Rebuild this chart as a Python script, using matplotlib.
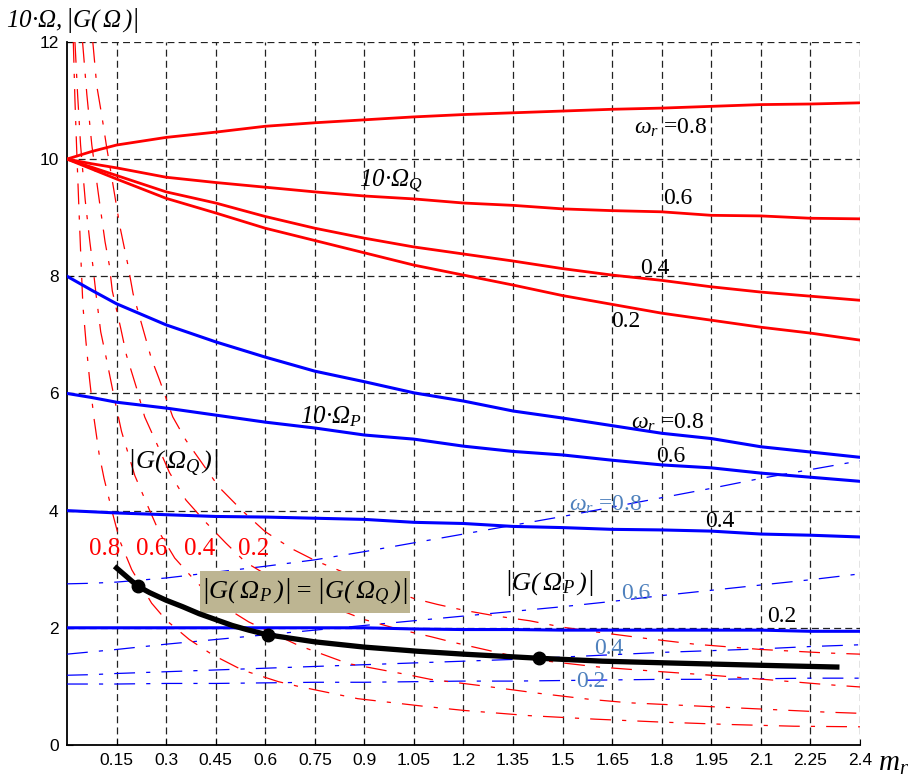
#!/usr/bin/python3
"""Omega_Q, Omega_P and |G| versus m_r for several omega_r values"""

import numpy as np
import matplotlib
matplotlib.use('Agg')

import matplotlib.pyplot as plt
from matplotlib.patches import Rectangle

# every math string is italic Times-like, digits and Greek included
plt.rcParams['mathtext.fontset'] = 'custom'
plt.rcParams['mathtext.rm'] = 'Liberation Serif:italic'
plt.rcParams['mathtext.it'] = 'Liberation Serif:italic'
plt.rcParams['lines.scale_dashes'] = False

# common m_r grid for the solid and dash-dot blue families
m_r = [0, 0.075, 0.15, 0.3, 0.45, 0.6, 0.75, 0.9, 1.05, 1.2, 1.35, 1.5,
       1.65, 1.8, 1.95, 2.1, 2.25, 2.4]

# 10*Omega_Q (red solid), omega_r = 0.8, 0.6, 0.4, 0.2
q_08 = [10.0, 10.13, 10.24, 10.37, 10.46, 10.56, 10.62, 10.67, 10.72, 10.76,
        10.79, 10.82, 10.85, 10.87, 10.9, 10.93, 10.94, 10.96]
q_06 = [10.0, 9.92, 9.85, 9.69, 9.6, 9.52, 9.44, 9.37, 9.32, 9.25, 9.21,
        9.15, 9.12, 9.1, 9.04, 9.03, 8.99, 8.98]
q_04 = [10.0, 9.86, 9.72, 9.44, 9.25, 9.02, 8.82, 8.65, 8.5, 8.38, 8.26,
        8.13, 8.02, 7.93, 7.82, 7.73, 7.66, 7.59]
q_02 = [10.0, 9.83, 9.66, 9.33, 9.08, 8.82, 8.61, 8.4, 8.19, 8.02, 7.85,
        7.67, 7.52, 7.37, 7.25, 7.13, 7.03, 6.91]

# 10*Omega_P (blue solid)
p_08 = [8.0, 7.76, 7.53, 7.17, 6.88, 6.62, 6.38, 6.2, 6.01, 5.87, 5.7, 5.58,
        5.45, 5.32, 5.23, 5.09, 5.0, 4.91]
p_06 = [6.0, 5.93, 5.85, 5.75, 5.63, 5.51, 5.41, 5.29, 5.22, 5.1, 5.01, 4.95,
        4.86, 4.78, 4.73, 4.64, 4.57, 4.5]
p_04 = [4.0, 3.98, 3.96, 3.93, 3.9, 3.89, 3.87, 3.85, 3.8, 3.78, 3.73, 3.71,
        3.68, 3.67, 3.65, 3.6, 3.58, 3.55]
p_02 = [2.0, 2.0, 2.0, 2.0, 2.0, 2.0, 2.0, 2.0, 1.98, 1.97, 1.97, 1.96,
        1.96, 1.96, 1.96, 1.96, 1.94, 1.94]

# |G(Omega_P)| (blue dash-dot)
gp_08 = [2.75, 2.76, 2.78, 2.85, 2.95, 3.05, 3.16, 3.3, 3.45, 3.6, 3.75, 3.9,
         4.06, 4.22, 4.38, 4.55, 4.7, 4.85]
gp_06 = [1.55, 1.59, 1.63, 1.72, 1.8, 1.88, 1.96, 2.04, 2.12, 2.2, 2.28, 2.36,
         2.45, 2.55, 2.64, 2.73, 2.82, 2.92]
gp_04 = [1.19, 1.2, 1.22, 1.25, 1.28, 1.31, 1.34, 1.37, 1.4, 1.43, 1.46, 1.5,
         1.54, 1.58, 1.61, 1.64, 1.68, 1.71]
gp_02 = [1.04, 1.04, 1.04, 1.05, 1.05, 1.06, 1.07, 1.07, 1.08, 1.09, 1.09,
         1.1, 1.11, 1.12, 1.12, 1.13, 1.14, 1.14]

# |G(Omega_Q)| (red dash-dot), each on its own m_r points
gq_08_x = [0.019, 0.024, 0.029, 0.035, 0.042, 0.048, 0.057, 0.068, 0.081,
           0.097, 0.112, 0.125, 0.139, 0.16, 0.196, 0.256, 0.3, 0.37, 0.44,
           0.53, 0.64, 0.7, 0.88, 1.08, 1.2, 1.4, 1.6, 1.8, 2.0, 2.2, 2.4]
gq_08_y = [12.0, 11.0, 10.2, 9.3, 8.3, 7.5, 6.9, 6.25, 5.6, 4.97, 4.55, 4.25,
           3.93, 3.48, 2.99, 2.42, 2.13, 1.8, 1.54, 1.28, 1.08, 1.0, 0.79,
           0.66, 0.59, 0.5, 0.44, 0.39, 0.35, 0.32, 0.31]
gq_06_x = [0.024, 0.032, 0.041, 0.055, 0.069, 0.078, 0.088, 0.102, 0.12,
           0.142, 0.165, 0.205, 0.245, 0.28, 0.326, 0.38, 0.45, 0.55, 0.7,
           0.85, 1.03, 1.1, 1.27, 1.43, 1.58, 1.7, 1.85, 2.0, 2.15, 2.3, 2.4]
gq_06_y = [12.0, 11.1, 10.24, 9.3, 8.59, 8.19, 7.68, 7.05, 6.57, 5.95, 5.35,
           4.6, 4.07, 3.62, 3.19, 2.85, 2.45, 2.1, 1.7, 1.39, 1.2, 1.12, 1.0,
           0.88, 0.78, 0.72, 0.68, 0.64, 0.6, 0.56, 0.54]
gq_04_x = [0.047, 0.06, 0.075, 0.095, 0.115, 0.128, 0.137, 0.163, 0.18, 0.21,
           0.235, 0.275, 0.31, 0.36, 0.42, 0.48, 0.54, 0.62, 0.7, 0.8, 0.9,
           1.0, 1.1, 1.17, 1.38, 1.5, 1.61, 1.8, 1.95, 2.13, 2.3, 2.4]
gq_04_y = [12.0, 11.1, 10.24, 9.4, 8.59, 8.19, 7.75, 7.1, 6.65, 6.1, 5.6,
           5.1, 4.65, 4.18, 3.8, 3.45, 3.12, 2.85, 2.6, 2.36, 2.14, 1.98,
           1.85, 1.75, 1.48, 1.4, 1.33, 1.25, 1.19, 1.11, 1.03, 0.99]
gq_02_x = [0.078, 0.09, 0.105, 0.12, 0.135, 0.16, 0.184, 0.2, 0.23, 0.255,
           0.28, 0.32, 0.36, 0.41, 0.46, 0.53, 0.6, 0.68, 0.75, 0.9, 1.05,
           1.12, 1.2, 1.3, 1.4, 1.5, 1.6, 1.75, 1.9, 2.1, 2.3, 2.4]
gq_02_y = [12.0, 11.25, 10.75, 10.2, 9.7, 8.85, 8.2, 7.7, 7.1, 6.6, 6.23,
           5.6, 5.2, 4.8, 4.4, 4.0, 3.64, 3.35, 3.15, 2.8, 2.5, 2.4, 2.3,
           2.2, 2.12, 2.01, 1.93, 1.82, 1.72, 1.63, 1.57, 1.55]

# |G(Omega_P)| = |G(Omega_Q)| locus (black) and the marked points
eq_x = [0.15, 0.214, 0.25, 0.3, 0.35, 0.4, 0.45, 0.5, 0.55, 0.607, 0.75,
        0.9, 1.06, 1.2, 1.428, 1.62, 1.82, 2.1, 2.33]
eq_y = [3.02, 2.71, 2.6, 2.47, 2.36, 2.24, 2.14, 2.04, 1.96, 1.88, 1.76,
        1.67, 1.6, 1.55, 1.48, 1.43, 1.4, 1.36, 1.33]
dot_x = [0.214, 0.607, 1.428]
dot_y = [2.71, 1.88, 1.48]

x_ticks = [0.15, 0.3, 0.45, 0.6, 0.75, 0.9, 1.05, 1.2, 1.35, 1.5, 1.65, 1.8,
           1.95, 2.1, 2.25, 2.4]
y_ticks = [0, 2, 4, 6, 8, 10, 12]


def main():
    fig = plt.figure(figsize=(9.17, 7.76), dpi=100)
    ax = fig.add_axes([0.0731, 0.04, 0.8647, 0.906])

    dashdot = (0, (15, 8, 3, 8))
    lbl_blue = '#4f81bd'
    serif = 'Liberation Serif'
    gq = r'$\left|G(\,Ω_Q\,)\right|$'
    gp = r'$\left|G(\,Ω_P\,)\right|$'
    om = r'$ω_r$'

    for y in (q_08, q_06, q_04, q_02):
        ax.plot(m_r, y, color='red', lw=2.0, zorder=4)
    for y in (p_08, p_06, p_04, p_02):
        ax.plot(m_r, y, color='blue', lw=2.2, zorder=4)
    for y in (gp_08, gp_06, gp_04, gp_02):
        ax.plot(m_r, y, color='blue', lw=0.9, linestyle=dashdot, zorder=3)
    for xx, yy in ((gq_08_x, gq_08_y), (gq_06_x, gq_06_y),
                   (gq_04_x, gq_04_y), (gq_02_x, gq_02_y)):
        ax.plot(xx, yy, color='red', lw=0.9, linestyle=dashdot, zorder=3)

    ax.plot(eq_x, eq_y, color='black', lw=3.8, zorder=6)
    ax.plot(dot_x, dot_y, 'o', color='black', ms=9, zorder=7)

    ax.set_xlim(0, 2.4)
    ax.set_ylim(0, 12)
    ax.set_xticks(x_ticks)
    ax.set_xticklabels(['%g' % t for t in x_ticks])
    ax.set_yticks(y_ticks)
    ax.tick_params(direction='in', length=4, labelsize=12.5, pad=6)
    for lab in ax.get_xticklabels() + ax.get_yticklabels():
        lab.set_fontfamily('Liberation Sans')
    ax.grid(True, color='#222222', linestyle=(0, (5, 3)), linewidth=0.9)
    ax.spines['top'].set_visible(False)
    ax.spines['right'].set_visible(False)
    ax.spines['left'].set_linewidth(1.3)
    ax.spines['bottom'].set_linewidth(1.3)

    # 10*Omega_Q labels
    ax.text(1.826, 10.53, om + ' =0.8', fontsize=17, family=serif,
            ha='center', va='center')
    ax.text(0.98, 9.64, r'$10·Ω_Q$', fontsize=18, ha='center', va='center')
    ax.text(1.85, 9.33, '0.6', fontsize=17, family=serif, ha='center', va='center')
    ax.text(1.78, 8.14, '0.4', fontsize=17, family=serif, ha='center', va='center')
    ax.text(1.69, 7.22, '0.2', fontsize=17, family=serif, ha='center', va='center')

    # 10*Omega_P labels
    ax.text(0.8, 5.61, r'$10·Ω_P$', fontsize=18, ha='center', va='center')
    ax.text(1.817, 5.49, om + ' =0.8', fontsize=17, family=serif,
            ha='center', va='center')
    ax.text(1.826, 4.93, '0.6', fontsize=17, family=serif, ha='center', va='center')
    ax.text(1.977, 3.82, '0.4', fontsize=17, family=serif, ha='center', va='center')
    ax.text(2.164, 2.19, '0.2', fontsize=17, family=serif, ha='center', va='center')

    # |G(Omega_P)| labels
    ax.text(1.63, 4.1, om + ' =0.8', fontsize=17, family=serif,
            color=lbl_blue, ha='center', va='center')
    ax.text(1.72, 2.58, '0.6', fontsize=17, family=serif, color=lbl_blue,
            ha='center', va='center')
    ax.text(1.64, 1.64, '0.4', fontsize=17, family=serif, color=lbl_blue,
            ha='center', va='center')
    ax.text(1.585, 1.09, '0.2', fontsize=17, family=serif, color=lbl_blue,
            ha='center', va='center')
    ax.text(1.458, 2.76, gp, fontsize=19, ha='center', va='center')

    # |G(Omega_Q)| labels
    ax.text(0.32, 4.81, gq, fontsize=19, ha='center', va='center')
    for xl, t in ((0.115, '0.8'), (0.256, '0.6'), (0.40, '0.4'), (0.565, '0.2')):
        ax.text(xl, 3.35, t, fontsize=18, family=serif, color='red',
                ha='center', va='center')

    # equality box
    ax.add_patch(Rectangle((0.401, 2.25), 0.637, 0.72, facecolor='#bdb592',
                           edgecolor='none', zorder=5))
    ax.text(0.72, 2.61, gp[:-1] + ' = ' + gq[1:], fontsize=19,
            ha='center', va='center', zorder=6)

    fig.text(0.006, 0.974, r'$10·Ω,\left|G(\,Ω\,)\right|$',
             fontsize=18, ha='left', va='center')
    fig.text(0.974, 0.017, r'$m_r$', fontsize=21, ha='center', va='center')

    plt.savefig('out.png', dpi=100)


if __name__ == "__main__":
    main()
